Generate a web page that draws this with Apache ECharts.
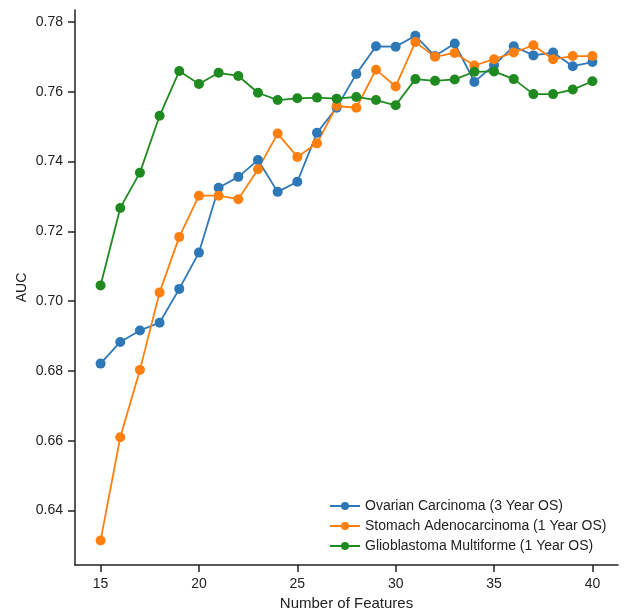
<!DOCTYPE html>
<html>
<head>
<meta charset="utf-8">
<script src="https://cdn.jsdelivr.net/npm/echarts@6/dist/echarts.min.js"></script>
<style>
  html, body { margin: 0; padding: 0; background: #fff; }
  #chart { width: 625px; height: 610px; }
</style>
</head>
<body>
<div id="chart"></div>
<script>
// number of features on x
var features = [15, 16, 17, 18, 19, 20, 21, 22, 23, 24, 25, 26, 27, 28, 29, 30, 31, 32, 33, 34, 35, 36, 37, 38, 39, 40];
var ovarian = [0.6821, 0.6883, 0.6916, 0.6938, 0.7035, 0.7139, 0.7325, 0.7356, 0.7404, 0.7313, 0.7342, 0.7482, 0.7554, 0.7651, 0.7730, 0.7729, 0.7760, 0.7702, 0.7738, 0.7628, 0.7676, 0.7730, 0.7704, 0.7712, 0.7673, 0.7685];
var stomach = [0.6314, 0.6610, 0.6803, 0.7025, 0.7184, 0.7302, 0.7302, 0.7292, 0.7378, 0.7480, 0.7413, 0.7452, 0.7559, 0.7554, 0.7663, 0.7615, 0.7742, 0.7700, 0.7711, 0.7675, 0.7693, 0.7712, 0.7733, 0.7693, 0.7702, 0.7702];
var glioblastoma = [0.7045, 0.7267, 0.7368, 0.7531, 0.7659, 0.7622, 0.7654, 0.7645, 0.7597, 0.7576, 0.7581, 0.7583, 0.7580, 0.7585, 0.7576, 0.7561, 0.7636, 0.7631, 0.7635, 0.7657, 0.7658, 0.7636, 0.7593, 0.7593, 0.7606, 0.7630];
var seriesNames = ['Ovarian Carcinoma (3 Year OS)', 'Stomach Adenocarcinoma (1 Year OS)', 'Glioblastoma Multiforme (1 Year OS)'];
var xTicks = [15, 20, 25, 30, 35, 40];
var yTicks = [0.64, 0.66, 0.68, 0.70, 0.72, 0.74, 0.76, 0.78];

var colors = ['#2e78b7', '#ff7f0e', '#1f8a1f'];
var font = 'Liberation Sans, Arial, sans-serif';

function pairs(vals) {
  return features.map(function (f, i) { return [f, vals[i]]; });
}

function lineSeries(name, vals, color) {
  return {
    name: name,
    type: 'line',
    data: pairs(vals),
    symbol: 'circle',
    symbolSize: 10,
    itemStyle: { color: color },
    lineStyle: { color: color, width: 1.8 },
    emphasis: { disabled: true }
  };
}

var myChart = echarts.init(document.getElementById('chart'));
var axisLine = { show: true, lineStyle: { color: '#222', width: 1.5 } };
var tickStyle = { color: '#222', width: 1.5 };
var option = {
  animation: false,
  color: colors,
  grid: { left: 75, top: 10, right: 7, bottom: 45, containLabel: false, outerBoundsMode: 'none' },
  legend: {
    orient: 'vertical',
    left: 324,
    top: 494,
    itemWidth: 30,
    itemHeight: 10,
    itemGap: 6,
    textStyle: { fontFamily: font, fontSize: 14, color: '#222' },
    data: seriesNames
  },
  xAxis: {
    type: 'value',
    min: 13.7,
    max: 41.3,
    name: 'Number of Features',
    nameLocation: 'middle',
    nameGap: 29,
    nameTextStyle: { fontFamily: font, fontSize: 15, color: '#222' },
    axisLine: axisLine,
    axisTick: { show: true, length: 7, customValues: xTicks, lineStyle: tickStyle },
    axisLabel: { customValues: xTicks, fontFamily: font, fontSize: 14, color: '#222', margin: 12 },
    splitLine: { show: false }
  },
  yAxis: {
    type: 'value',
    min: 0.6244,
    max: 0.7834,
    name: 'AUC',
    nameLocation: 'middle',
    nameGap: 46,
    nameRotate: 90,
    nameMoveOverlap: false,
    nameTextStyle: { fontFamily: font, fontSize: 14, color: '#222' },
    axisLine: axisLine,
    axisTick: { show: true, length: 7, customValues: yTicks, lineStyle: tickStyle },
    axisLabel: {
      customValues: yTicks, fontFamily: font, fontSize: 14, color: '#222', margin: 12,
      formatter: function (v) { return v.toFixed(2); }
    },
    splitLine: { show: false }
  },
  series: [
    lineSeries(seriesNames[0], ovarian, colors[0]),
    lineSeries(seriesNames[1], stomach, colors[1]),
    lineSeries(seriesNames[2], glioblastoma, colors[2])
  ]
};
option && myChart.setOption(option);
</script>
</body>
</html>
